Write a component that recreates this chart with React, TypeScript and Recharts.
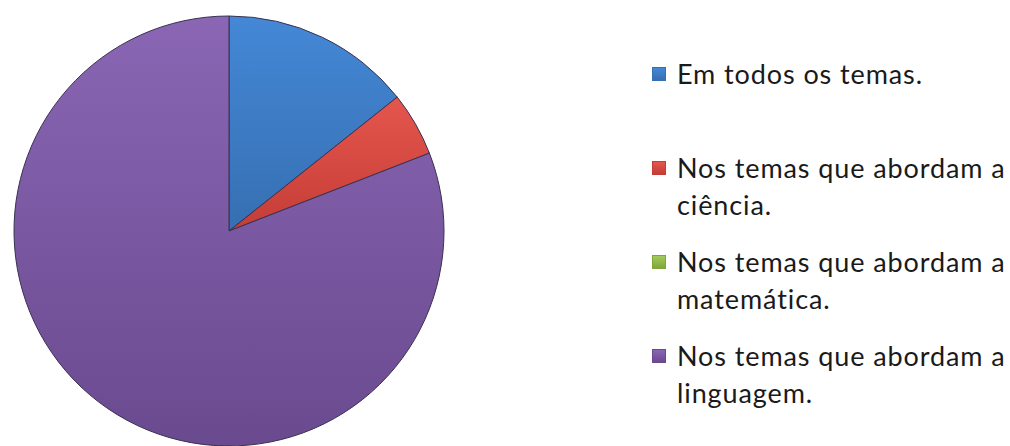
import React from 'react';
import { PieChart, Pie, Cell, Legend } from 'recharts';

const categories = [
  'Em todos os temas.',
  'Nos temas que abordam a ciência.',
  'Nos temas que abordam a matemática.',
  'Nos temas que abordam a linguagem.',
];
const legendLines = [
  ['Em todos os temas.'],
  ['Nos temas que abordam a', 'ciência.'],
  ['Nos temas que abordam a', 'matemática.'],
  ['Nos temas que abordam a', 'linguagem.'],
];
const values = [14.3, 4.8, 0, 80.9];
const colors = ['#3e7cc5', '#d8473f', '#93bb4a', '#7b58a6'];
const topColors = ['#4488d6', '#e5564d', '#a3cb5a', '#8a66b4'];
const bottomColors = ['#366fb2', '#c43d37', '#7fa63c', '#6a4a8f'];

const data = categories.map((name, i) => ({ name, value: values[i] }));

const LegendContent = () => (
  <div style={{ fontFamily: 'Lato, sans-serif', fontSize: 27, letterSpacing: '0.9px', color: '#1a1a1a', lineHeight: '37px' }}>
    {legendLines.map((lines, i) => (
      <div key={i} style={{ position: 'absolute', left: 0, top: i * 94, whiteSpace: 'nowrap' }}>
        <div
          style={{
            position: 'absolute',
            left: 0,
            top: 12,
            width: 14,
            height: 14,
            background: `linear-gradient(180deg, ${topColors[i]}, ${bottomColors[i]})`,
            border: `1px solid ${bottomColors[i]}`,
            boxSizing: 'border-box',
          }}
        />
        <div style={{ position: 'absolute', left: 25, top: 0 }}>
          {lines.map((l, j) => (
            <div key={j}>{l}</div>
          ))}
        </div>
      </div>
    ))}
  </div>
);

export default function App() {
  return (
    <div style={{ position: 'absolute', left: 0, top: 0, background: '#fff' }}>
      <PieChart width={1010} height={446} margin={{ top: 0, right: 0, bottom: 0, left: 0 }}>
        <defs>
          {colors.map((c, i) => (
            <linearGradient key={i} id={`g${i}`} x1="0" y1="0" x2="0" y2="1">
              <stop offset="0%" stopColor={topColors[i]} />
              <stop offset="100%" stopColor={bottomColors[i]} />
            </linearGradient>
          ))}
        </defs>
        <Pie
          data={data}
          dataKey="value"
          nameKey="name"
          cx={229}
          cy={231}
          outerRadius={215}
          startAngle={90}
          endAngle={-270}
          isAnimationActive={false}
          stroke="#3a3150"
          strokeWidth={1}
          labelLine={false}
        >
          {data.map((d, i) => (
            <Cell key={i} fill={`url(#g${i})`} stroke={d.value === 0 ? 'none' : '#3a3150'} />
          ))}
        </Pie>
        <Legend
          content={<LegendContent />}
          wrapperStyle={{ position: 'absolute', left: 652, top: 55, width: 358, height: 380 }}
        />
      </PieChart>
    </div>
  );
}
